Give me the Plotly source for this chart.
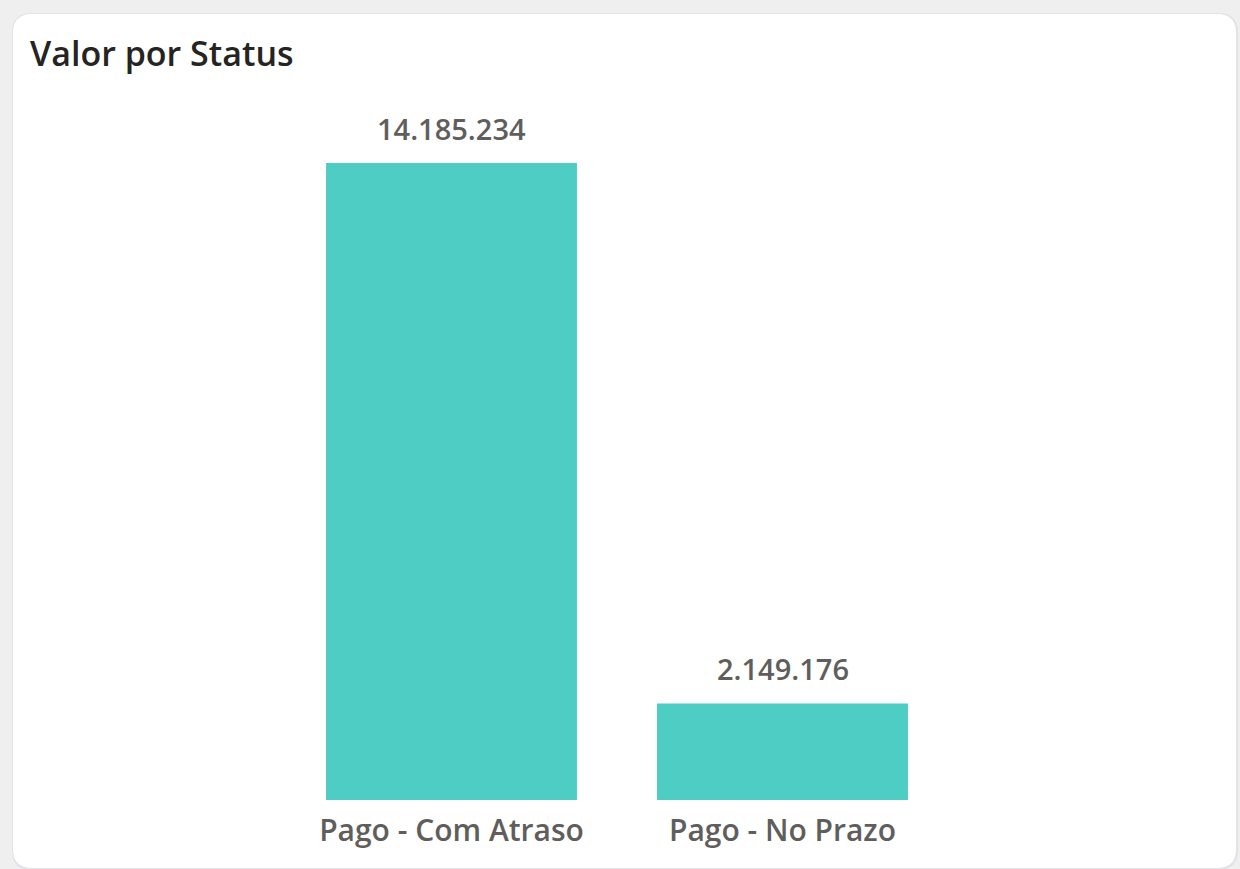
import plotly.graph_objects as go

categories = ["Pago - Com Atraso", "Pago - No Prazo"]
values = [14185234, 2149176]
value_labels = ["14.185.234", "2.149.176"]

W, H = 1240, 869
PL, PR, PT, PB = 286, 948, 100, 800  # plot area pixel bounds
YMAX = 14185234 * (PB - PT) / (PB - 163)

def px(x):
    return (x - PL) / (PR - PL)

def py(y):
    return (PB - y) / (PB - PT)

def rrect(x0, y0, x1, y1, r):
    pts = [
        f"M {px(x0 + r)} {py(y0)}",
        f"L {px(x1 - r)} {py(y0)}",
        f"Q {px(x1)} {py(y0)} {px(x1)} {py(y0 + r)}",
        f"L {px(x1)} {py(y1 - r)}",
        f"Q {px(x1)} {py(y1)} {px(x1 - r)} {py(y1)}",
        f"L {px(x0 + r)} {py(y1)}",
        f"Q {px(x0)} {py(y1)} {px(x0)} {py(y1 - r)}",
        f"L {px(x0)} {py(y0 + r)}",
        f"Q {px(x0)} {py(y0)} {px(x0 + r)} {py(y0)}",
        "Z",
    ]
    return " ".join(pts)

FONT = "Segoe UI, Open Sans, Noto Sans, sans-serif"
BAR = "#4ECDC4"
TXT = "#605E5C"

fig = go.Figure()
fig.add_trace(go.Bar(
    x=categories, y=values, marker=dict(color=BAR, line=dict(width=0)),
    width=0.758, hoverinfo="skip",
))

for c, v, lab in zip(categories, values, value_labels):
    fig.add_annotation(x=c, y=v, text=lab, showarrow=False, yanchor="bottom",
                       yshift=13, font=dict(family=FONT, size=29, color=TXT, weight=600))

shapes = [
    dict(type="path", xref="paper", yref="paper", layer="below",
         path=rrect(12, 13, 1238, 870, 20), fillcolor="#E2E2E8", line=dict(width=0)),
    dict(type="path", xref="paper", yref="paper", layer="below",
         path=rrect(13, 14, 1236, 868, 19), fillcolor="#FFFFFF", line=dict(width=0)),
]

fig.update_layout(
    width=W, height=H,
    margin=dict(l=PL, r=W - PR, t=PT, b=H - PB, pad=0),
    paper_bgcolor="#EFEFEF", plot_bgcolor="rgba(0,0,0,0)",
    showlegend=False, shapes=shapes,
    title=dict(text="Valor por Status", x=30 / W, xanchor="left", y=1 - 54 / H, yanchor="middle",
               font=dict(family=FONT, size=34, color="#252423", weight=600)),
    xaxis=dict(range=[-0.5, 1.5], showgrid=False, zeroline=False, showline=False, ticks="",
               ticklabelstandoff=10,
               tickfont=dict(family=FONT, size=30, color=TXT, weight=600)),
    yaxis=dict(range=[0, YMAX], visible=False),
)

fig.write_html("out.html", config={"displayModeBar": False},
               post_script="document.body.style.margin='0';document.body.style.overflow='hidden';")
